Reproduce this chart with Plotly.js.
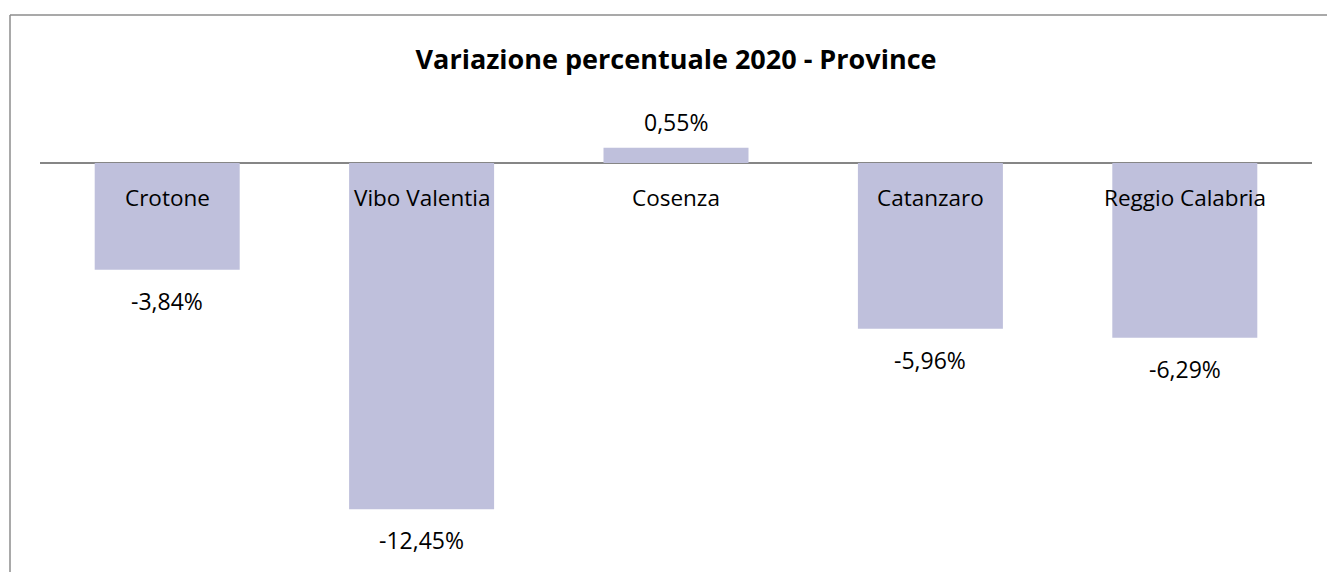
<!DOCTYPE html>
<html>
<head>
<meta charset="utf-8">
<script src="https://cdn.plot.ly/plotly-3.0.1.min.js"></script>
<style>
  html, body { margin: 0; padding: 0; background: #ffffff; }
  #chart { width: 1327px; height: 572px; }
</style>
</head>
<body>
<div id="chart"></div>
<script>
// Data
const categories = ["Crotone", "Vibo Valentia", "Cosenza", "Catanzaro", "Reggio Calabria"];
const values = [-3.84, -12.45, 0.55, -5.96, -6.29];
const chartTitle = "Variazione percentuale 2020 - Province";

const fmt = v => v.toFixed(2).replace('.', ',') + '%';

const FONT = "Open Sans, Noto Sans, sans-serif";
const W = 1327, ML = 40, MR = 15, MT = 15, MB = 0;
const plotW = W - ML - MR;
const pxToPaperX = px => (px - ML) / plotW;

const trace = {
  type: 'bar',
  x: categories,
  y: values,
  marker: { color: '#bfc0dc', line: { width: 0 } },
  hoverinfo: 'none'
};

const annotations = [];
categories.forEach((c, i) => {
  annotations.push({
    x: c, y: 0, xref: 'x', yref: 'y',
    text: c, showarrow: false,
    yanchor: 'middle', xanchor: 'center',
    yshift: -35,
    font: { family: FONT, size: 22.5, color: '#000000' }
  });
  const v = values[i];
  annotations.push({
    x: c, y: v, xref: 'x', yref: 'y',
    text: fmt(v), showarrow: false,
    yanchor: 'middle', xanchor: 'center',
    yshift: v < 0 ? -31 : 26,
    font: { family: FONT, size: 23, color: '#000000' }
  });
});

const layout = {
  width: 1327, height: 572,
  margin: { l: ML, r: MR, t: MT, b: MB },
  paper_bgcolor: '#ffffff',
  plot_bgcolor: '#ffffff',
  showlegend: false,
  bargap: 0.43,
  title: {
    text: '<b>' + chartTitle + '</b>',
    font: { family: FONT, size: 27, color: '#000000' },
    x: 0.5, xref: 'paper', xanchor: 'center',
    y: 1 - 60 / 572, yref: 'container', yanchor: 'middle'
  },
  xaxis: {
    showticklabels: false, showgrid: false, zeroline: false, showline: false,
    ticks: ''
  },
  yaxis: {
    range: [-14.71, 5.32],
    showticklabels: false, showgrid: false, showline: false, ticks: '',
    zeroline: true, zerolinecolor: '#868686', zerolinewidth: 1.5
  },
  annotations: annotations,
  shapes: [
    { type: 'line', xref: 'paper', yref: 'paper',
      x0: pxToPaperX(10), x1: pxToPaperX(1340), y0: 1, y1: 1,
      line: { color: '#8c8c8c', width: 1.5 } },
    { type: 'line', xref: 'paper', yref: 'paper',
      x0: pxToPaperX(10), x1: pxToPaperX(10), y0: 1, y1: -0.1,
      line: { color: '#8c8c8c', width: 1.5 } }
  ]
};

Plotly.newPlot('chart', [trace], layout, { staticPlot: true, displayModeBar: false });
</script>
</body>
</html>
